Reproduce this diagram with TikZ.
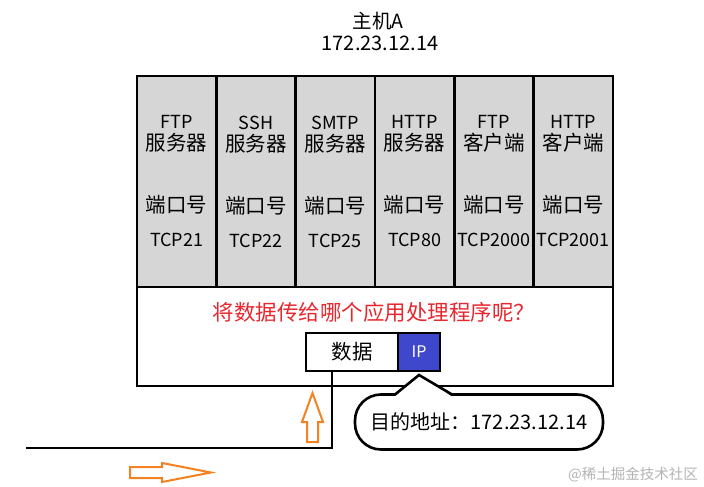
\documentclass[tikz,border=0pt]{standalone}
\usepackage{fontspec}
\usepackage{tikz}
\usetikzlibrary{positioning}
\newfontfamily\cjk{Noto Sans CJK SC}
\newcommand\hz[1]{{\fontsize{20.5}{22}\selectfont #1}}
\definecolor{Ink}{HTML}{000000}
\definecolor{PortGray}{HTML}{D6D6D6}
\definecolor{AskRed}{HTML}{E8282E}
\definecolor{IpBlue}{HTML}{3F48CC}
\definecolor{FlowOrange}{HTML}{F58220}
\definecolor{MarkGray}{HTML}{B4B4B4}

\begin{document}
\begin{tikzpicture}[x=1pt, y=-1pt,
  font=\cjk\fontsize{18}{22}\selectfont,
  frame/.style={draw=Ink, line width=2.6pt, inner sep=0pt, outer sep=0pt},
  port/.style={frame, fill=PortGray, align=center, minimum width=79.33pt, minimum height=211pt},
  packet/.style={frame, minimum height=38pt, font=\cjk\fontsize{20.5}{22}\selectfont},
  wire/.style={draw=Ink, line width=2.6pt},
  flow/.style={draw=FlowOrange, line width=2pt, fill=white, line join=miter}
]
\useasboundingbox[fill=white] (0,0) rectangle (704,487);

\node[font=\cjk\fontsize{19.5}{22}\selectfont] (host) at (378,21) {主机A};
\node[font=\cjk\fontsize{20}{22}\selectfont] (hostip) at (380,43) {172.23.12.14};

\node[frame, minimum width=476pt, minimum height=310pt] (hostbox) at (375,231) {};
\node[port] (ftps) at (176.7,181.5) {FTP\\\hz{服务器}\\[40pt]\hz{端口号}\\[12pt]TCP21};
\node[port, right=0pt of ftps] (sshs) {SSH\\\hz{服务器}\\[40pt]\hz{端口号}\\[12pt]TCP22};
\node[port, right=0pt of sshs] (smtps) {SMTP\\\hz{服务器}\\[40pt]\hz{端口号}\\[12pt]TCP25};
\node[port, right=0pt of smtps] (https) {HTTP\\\hz{服务器}\\[40pt]\hz{端口号}\\[12pt]TCP80};
\node[port, right=0pt of https] (ftpc) {FTP\\\hz{客户端}\\[40pt]\hz{端口号}\\[12pt]TCP2000};
\node[port, right=0pt of ftpc] (httpc) {HTTP\\\hz{客户端}\\[40pt]\hz{端口号}\\[12pt]TCP2001};

\node[text=AskRed, font=\cjk\fontsize{21.5}{24}\selectfont] (ask) at (374,312) {将数据传给哪个应用处理程序呢？};
\node[packet, fill=white, minimum width=92pt] (data) at (352,352) {数据};
\node[packet, fill=IpBlue, text=white, minimum width=42pt, right=0pt of data,
  font=\cjk\fontsize{16}{20}\selectfont] (ip) {IP};

% cable leaving the packet
\coordinate (cable) at (26,448);
\draw[wire] ([xshift=-20pt]data.south) |- (cable);

% destination callout
\node[frame, fill=white, rounded corners=26pt, minimum width=248pt, minimum height=55pt,
  font=\cjk\fontsize{20}{22}\selectfont] (dst) at (479,422) {目的地址：172.23.12.14};
\coordinate (tip) at ([yshift=-4pt]ip.south);
\fill[white] ([xshift=-84pt,yshift=-2pt]dst.north) -- (tip) -- ([xshift=-27pt,yshift=-2pt]dst.north) -- cycle;
\draw[wire, line join=miter] ([xshift=-84pt]dst.north) -- (tip) -- ([xshift=-27pt]dst.north);

% flow direction
\draw[flow] (307,442) -- (307,422) -- (302,422) -- (312.5,393) -- (323,422) -- (318,422) -- (318,442) -- cycle;
\draw[flow] (130,467) -- (162,467) -- (162,463) -- (211,472.5) -- (162,482) -- (162,478) -- (130,478) -- cycle;

\node[text=MarkGray, font=\cjk\fontsize{14.5}{16}\selectfont] (mark) at (633,475) {@稀土掘金技术社区};
\end{tikzpicture}
\end{document}
